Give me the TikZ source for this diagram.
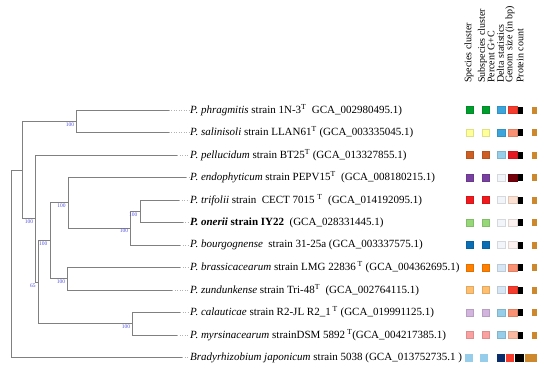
\documentclass[tikz,border=0pt]{standalone}
\usepackage{fontspec}
\setmainfont{Liberation Serif}
\usetikzlibrary{positioning}
\definecolor{treegray}{RGB}{128,128,128}
\definecolor{bootblue}{RGB}{80,80,225}
\definecolor{cGreen}{RGB}{0,158,45}
\definecolor{cYellow}{RGB}{255,255,153}
\definecolor{cRust}{RGB}{205,95,35}
\definecolor{cPurple}{RGB}{120,65,160}
\definecolor{cRed}{RGB}{240,25,30}
\definecolor{cLGreen}{RGB}{150,215,120}
\definecolor{cBlue}{RGB}{10,110,180}
\definecolor{cOrange}{RGB}{255,127,0}
\definecolor{cLOrange}{RGB}{254,191,111}
\definecolor{cLav}{RGB}{210,180,222}
\definecolor{cPink}{RGB}{250,160,160}
\definecolor{cSky}{RGB}{150,205,235}
\definecolor{gcBlue}{RGB}{60,165,220}
\definecolor{gcPale}{RGB}{150,205,232}
\definecolor{gcLight}{RGB}{215,230,245}
\definecolor{gcWhite}{RGB}{242,246,250}
\definecolor{gcNavy}{RGB}{10,45,110}
\definecolor{dRed}{RGB}{245,60,45}
\definecolor{dRedB}{RGB}{230,25,35}
\definecolor{dSalmon}{RGB}{250,145,115}
\definecolor{dDark}{RGB}{115,0,10}
\definecolor{dPeach}{RGB}{252,225,210}
\definecolor{dPeachB}{RGB}{250,185,160}
\definecolor{dWhite}{RGB}{252,241,238}
\definecolor{pBrown}{RGB}{205,135,45}

\begin{document}
\begin{tikzpicture}[x=1pt,y=-1pt, branch/.style={draw=treegray,line width=0.8pt}, tipline/.style={draw=gray!60,dotted,line width=0.5pt}, leaf/.style={anchor=west,inner sep=1pt,font=\fontsize{11}{12}\selectfont}, boot/.style={anchor=north east,inner sep=0pt,text=bootblue,font=\fontsize{5.5}{5.5}\selectfont,xshift=-2.5pt,yshift=-1pt}, head/.style={rotate=90,anchor=west,inner sep=0pt,font=\fontsize{10}{11}\selectfont}, cell/.style={line width=0.3pt}]
\useasboundingbox (0,0) rectangle (550,372);
\coordinate (root) at (11.7,263.7);
\coordinate (nX) at (22.3,169.9);
\coordinate (nP) at (76.7,121.25);
\coordinate (nY) at (35.7,218.6);
\coordinate (nZ) at (38.3,282.3);
\coordinate (nW) at (50,240.8);
\coordinate (nV) at (68.3,202.8);
\coordinate (nT) at (130.7,228.1);
\coordinate (nS) at (140,211.25);
\coordinate (nU) at (67.7,278.75);
\coordinate (nR) at (132.7,323.75);
\foreach \i/\x in {1/168.5,2/168.5,3/177,4/186,5/179,6/182.5,7/180,8/180,9/172,10/180,11/177,12/182}
  \coordinate (t\i) at (\x,{110+22.5*(\i-1)});
\node[leaf] (l1) at (189,110) {\textit{P. phragmitis} strain 1N-3\textsuperscript{T}\ \ GCA\_002980495.1)};
\node[leaf] (l2) at (189,132.5) {\textit{P. salinisoli} strain LLAN61\textsuperscript{T} (GCA\_003335045.1)};
\node[leaf] (l3) at (189,155) {\textit{P. pellucidum} strain BT25\textsuperscript{T} (GCA\_013327855.1)};
\node[leaf] (l4) at (189,177.5) {\textit{P. endophyticum} strain PEPV15\textsuperscript{T}\ \ (GCA\_008180215.1)};
\node[leaf] (l5) at (189,200) {\textit{P. trifolii} strain\ \ CECT 7015 \textsuperscript{T}\ \ (GCA\_014192095.1)};
\node[leaf] (l6) at (189,222.5) {\textbf{\textit{P. onerii} strain IY22}\ \ (GCA\_028331445.1)};
\node[leaf] (l7) at (189,245) {\textit{P. bourgognense}\ \ strain 31-25a (GCA\_003337575.1)};
\node[leaf] (l8) at (189,267.5) {\textit{P. brassicacearum} strain LMG 22836\,\textsuperscript{T} (GCA\_004362695.1)};
\node[leaf] (l9) at (189,290) {\textit{P. zundunkense} strain Tri-48\textsuperscript{T}\ \ (GCA\_002764115.1)};
\node[leaf] (l10) at (189,312.5) {\textit{P. calauticae} strain R2-JL R2\_1\,\textsuperscript{T} (GCA\_019991125.1)};
\node[leaf] (l11) at (189,335) {\textit{P. myrsinacearum} strainDSM 5892\,\textsuperscript{T}(GCA\_004217385.1)};
\node[leaf] (l12) at (189,357.5) {\textit{Bradyrhizobium japonicum} strain 5038 (GCA\_013752735.1 )};
\foreach \a/\b in {root/nX,root/t12,nX/nP,nX/nY,nP/t1,nP/t2,nY/t3,nY/nZ,nZ/nW,nZ/nR,nW/nV,nW/nU,nV/t4,nV/nT,nT/nS,nT/t7,nS/t5,nS/t6,nU/t8,nU/t9,nR/t10,nR/t11}
  \draw[branch] (\a) |- (\b);
\foreach \i in {1,...,12}
  \draw[tipline] (t\i) -- (l\i);
\foreach \n/\v in {nP/100,nY/100,nZ/65,nW/100,nV/100,nT/100,nS/100,nU/100,nR/100}
  \node[boot] (b\n) at (\n) {\v};
\node[head] (h1) at (469,83) {Species cluster};
\node[head] (h2) at (482.5,83) {Subspecies cluster};
\node[head] (h3) at (491,83) {Percent G+C};
\node[head] (h4) at (500.5,83) {Delta statistics};
\node[head] (h5) at (510,83) {Genom size (in bp)};
\node[head] (h6) at (520,83) {Protein count};
\foreach \r/\ca/\cb/\cc in {1/cGreen/gcBlue/dRed,2/cYellow/gcBlue/dSalmon,3/cRust/gcPale/dRedB,4/cPurple/gcWhite/dDark,5/cRed/gcWhite/dPeach,6/cLGreen/gcWhite/dWhite,7/cBlue/gcWhite/dWhite,8/cOrange/gcLight/dSalmon,9/cLOrange/gcLight/dRed,10/cLav/gcPale/dSalmon,11/cPink/gcPale/dPeachB}{
  \pgfmathsetmacro{\ym}{110+22.5*(\r-1)}
  \draw[cell,fill=\ca,draw=\ca!88!black] (466,\ym-3.5) rectangle (473,\ym+3.5);
  \draw[cell,fill=\ca,draw=\ca!88!black] (482,\ym-3.5) rectangle (489.5,\ym+3.5);
  \draw[cell,fill=\cb,draw=\cb!88!black] (497.5,\ym-3.5) rectangle (505,\ym+3.5);
  \draw[cell,fill=\cc,draw=\cc!88!black] (508.3,\ym-3.5) rectangle (516.7,\ym+3.5);
  \fill[black] (518.3,\ym-3.5) rectangle (523.3,\ym+3.5);
  \fill[pBrown] (531.7,\ym-3.5) rectangle (537.3,\ym+3.5);
}
\fill[cSky] (465,353.5) rectangle (472.7,361.5);
\fill[cSky] (480,353.5) rectangle (488.3,361.5);
\fill[gcNavy] (496.7,353.5) rectangle (505,361.5);
\fill[dRed] (506,353.5) rectangle (514,361.5);
\fill[black] (515,353.5) rectangle (524,361.5);
\fill[pBrown] (525,353.5) rectangle (536.7,361.5);
\end{tikzpicture}
\end{document}
